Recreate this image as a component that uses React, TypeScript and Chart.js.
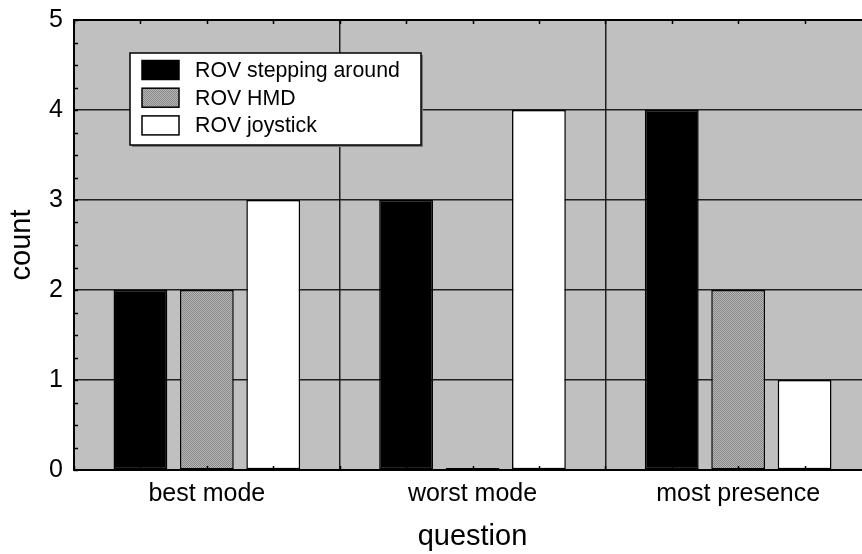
import React, { useEffect, useRef } from "react";
import { Chart, registerables } from "chart.js";

Chart.register(...registerables);

const categories = ["best mode", "worst mode", "most presence"];
const seriesLabels = ["ROV stepping around", "ROV HMD", "ROV joystick"];
const steppingAround = [2, 3, 4];
const hmd = [2, 0, 2];
const joystick = [3, 4, 1];
const yMin = 0;
const yMax = 5;
const yStep = 1;
const xTitle = "question";
const yTitle = "count";

const FONT = "'Liberation Sans', Arial, Helvetica, sans-serif";

function makePattern(): CanvasPattern | string {
  const c = document.createElement("canvas");
  c.width = 2;
  c.height = 2;
  const g = c.getContext("2d");
  if (!g) return "#a0a0a0";
  g.fillStyle = "#b8b8b8";
  g.fillRect(0, 0, 2, 2);
  g.fillStyle = "#858585";
  g.fillRect(0, 0, 1, 1);
  g.fillRect(1, 1, 1, 1);
  return g.createPattern(c, "repeat") || "#a0a0a0";
}

const framePlugin = {
  id: "framePlugin",
  beforeDraw(chart: any) {
    const { ctx, chartArea: a } = chart;
    ctx.save();
    ctx.fillStyle = "#c0c0c0";
    ctx.fillRect(a.left, a.top, a.right - a.left, a.bottom - a.top);
    ctx.restore();
  },
  afterDraw(chart: any) {
    const { ctx, chartArea: a, scales } = chart;
    const xs = scales.x;
    const ys = scales.y;
    ctx.save();
    ctx.strokeStyle = "#000";
    ctx.lineWidth = 1.5;
    const seg = (x1: number, y1: number, x2: number, y2: number) => {
      ctx.beginPath();
      ctx.moveTo(x1, y1);
      ctx.lineTo(x2, y2);
      ctx.stroke();
    };
    // minor ticks on y
    for (let v = yMin; v <= yMax + 1e-9; v += 0.25) {
      const py = Math.round(ys.getPixelForValue(v)) + 0.5;
      seg(a.left, py, a.left + 4, py);
      seg(a.right - 4, py, a.right, py);
    }
    // minor ticks on x
    for (let i = -0.5; i <= categories.length - 0.5 + 1e-9; i += 0.25) {
      const px = Math.round(xs.getPixelForValue(i)) + 0.5;
      seg(px, a.top, px, a.top + 4);
      seg(px, a.bottom - 4, px, a.bottom);
    }
    // frame
    ctx.lineWidth = 2;
    ctx.strokeRect(a.left, a.top, a.right - a.left, a.bottom - a.top);

    // legend
    const lx = a.left + 56;
    const ly = a.top + 33;
    const lw = 291;
    const lh = 92;
    ctx.fillStyle = "#7a7a7a";
    ctx.fillRect(lx + 2, ly + 2, lw, lh);
    ctx.fillStyle = "#fff";
    ctx.fillRect(lx, ly, lw, lh);
    ctx.lineWidth = 1.5;
    ctx.strokeStyle = "#000";
    ctx.strokeRect(lx, ly, lw, lh);
    ctx.font = `21.3px ${FONT}`;
    ctx.textBaseline = "middle";
    ctx.textAlign = "left";
    chart.data.datasets.forEach((ds: any, i: number) => {
      const cy = ly + 17 + i * 27.7;
      ctx.fillStyle = ds.backgroundColor;
      ctx.fillRect(lx + 12, cy - 9.5, 37, 19);
      ctx.strokeStyle = "#000";
      ctx.lineWidth = 1.5;
      ctx.strokeRect(lx + 12, cy - 9.5, 37, 19);
      ctx.fillStyle = "#000";
      ctx.fillText(ds.label, lx + 65, cy + 1);
    });
    ctx.restore();
  },
};

export default function App() {
  const ref = useRef<HTMLCanvasElement | null>(null);
  useEffect(() => {
    if (!ref.current) return;
    const pattern = makePattern();
    const common = {
      borderColor: "#000",
      borderWidth: 1.5,
      borderSkipped: false,
      categoryPercentage: 0.75,
      barPercentage: 0.81,
    };
    const chart = new Chart(ref.current, {
      type: "bar",
      data: {
        labels: categories,
        datasets: [
          { label: seriesLabels[0], data: steppingAround, backgroundColor: "#000", ...common },
          { label: seriesLabels[1], data: hmd, backgroundColor: pattern as any, minBarLength: 2, ...common },
          { label: seriesLabels[2], data: joystick, backgroundColor: "#fff", ...common },
        ] as any,
      },
      options: {
        responsive: false,
        animation: false,
        layout: { padding: { left: 0, top: 20, right: 1, bottom: 0 } },
        plugins: {
          legend: { display: false },
          tooltip: { enabled: false },
        },
        scales: {
          x: {
            offset: true,
            grid: { offset: true, color: "#1e1e1e", lineWidth: 1.5, drawTicks: false },
            border: { display: false },
            ticks: { color: "#000", padding: 9, font: { family: FONT, size: 25 } },
            title: {
              display: true,
              text: xTitle,
              color: "#000",
              font: { family: FONT, size: 29 },
              padding: { top: 1, bottom: 0 },
            },
            afterFit: (s: any) => {
              s.height = 84;
              s.paddingLeft = 0;
              s.paddingRight = 0;
            },
          },
          y: {
            min: yMin,
            max: yMax,
            grid: { color: "#1e1e1e", lineWidth: 1.5, drawTicks: false },
            border: { display: false },
            ticks: { stepSize: yStep, color: "#000", padding: 11, font: { family: FONT, size: 25 } },
            title: {
              display: true,
              text: yTitle,
              color: "#000",
              font: { family: FONT, size: 29 },
              padding: { top: 5, bottom: 0 },
            },
            afterFit: (s: any) => {
              s.width = 74;
              s.paddingTop = 0;
              s.paddingBottom = 0;
            },
          },
        },
      } as any,
      plugins: [framePlugin],
    });
    return () => chart.destroy();
  }, []);
  return (
    <div
      style={{
        position: "fixed",
        left: 0,
        top: 0,
        width: 862,
        height: 554,
        overflow: "hidden",
        background: "#fff",
      }}
    >
      <canvas ref={ref} width={872} height={554} style={{ display: "block", width: 872, height: 554 }} />
    </div>
  );
}
